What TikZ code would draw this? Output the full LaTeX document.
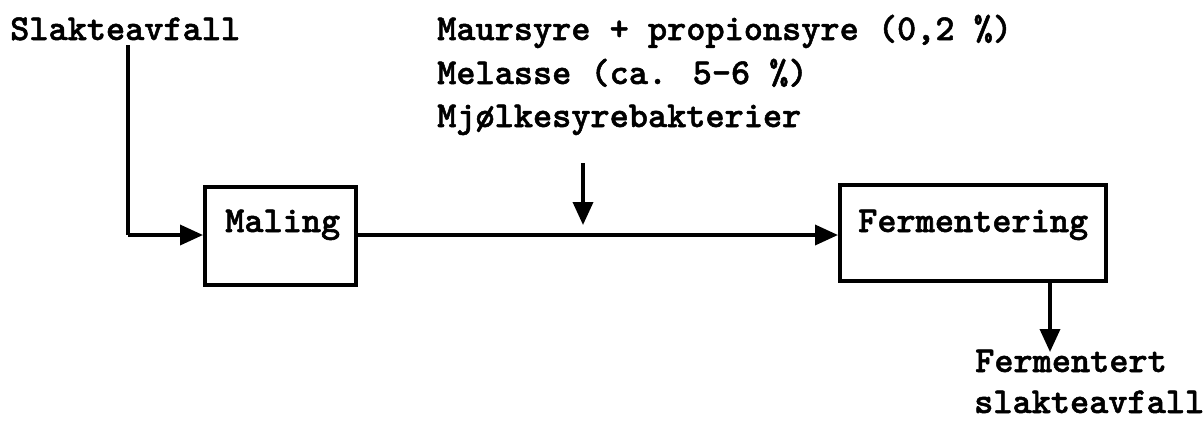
\documentclass[tikz,border=0pt]{standalone}
\usepackage{fontspec}
\newfontfamily\typewriter[BoldFeatures={FakeBold=1.4}]{Latin Modern Mono Light}
\usetikzlibrary{arrows.meta}
\tikzset{
  txt/.style={font=\typewriter\bfseries\fontsize{36.5}{40}\selectfont, anchor=base west, inner sep=0pt},
  procbox/.style={draw, line width=3.6pt, anchor=north west, inner sep=0pt},
  flow/.style={line width=3.6pt, -{Triangle[length=23pt, width=20pt]}},
  plain/.style={line width=3.4pt},
}
\begin{document}
\begin{tikzpicture}[x=1pt, y=-1pt]
  \useasboundingbox (0,0) rectangle (1204,421);

  % input label and additives
  \node[txt] (slakte) at (10,40) {Slakteavfall};
  \node[txt] (add1) at (437,40) {Maursyre + propionsyre (0,2 \%)};
  \node[txt] (add2) at (437,84) {Melasse (ca. 5-6 \%)};
  \node[txt] (add3) at (437,127) {Mjølkesyrebakterier};

  % process boxes
  \node[procbox, minimum width=151pt, minimum height=98pt] (mal) at (203,185) {};
  \node[txt] (maltxt) at (225,232) {Maling};
  \node[procbox, minimum width=266pt, minimum height=96pt] (ferm) at (838,183) {};
  \node[txt] (fermtxt) at (858,232) {Fermentering};

  % output label
  \node[txt] (out1) at (975,372) {Fermentert};
  \node[txt] (out2) at (974,413) {slakteavfall};

  % connectors
  \coordinate (inTop) at (128,45);
  \coordinate (inBend) at (128,235);
  \coordinate (malR) at (354,235);
  \coordinate (addTop) at (583,163);
  \coordinate (addTip) at (583,225);
  \coordinate (outTop) at (1050,281);
  \coordinate (outTip) at (1050,352);

  \draw[plain] (inTop) -- (inBend);
  \draw[flow] (inBend) -- (inBend -| mal.west);
  \draw[flow] (malR) -- (malR -| ferm.west);
  \draw[flow] (addTop) -- (addTip);
  \draw[flow] (outTop) -- (outTip);
\end{tikzpicture}
\end{document}
